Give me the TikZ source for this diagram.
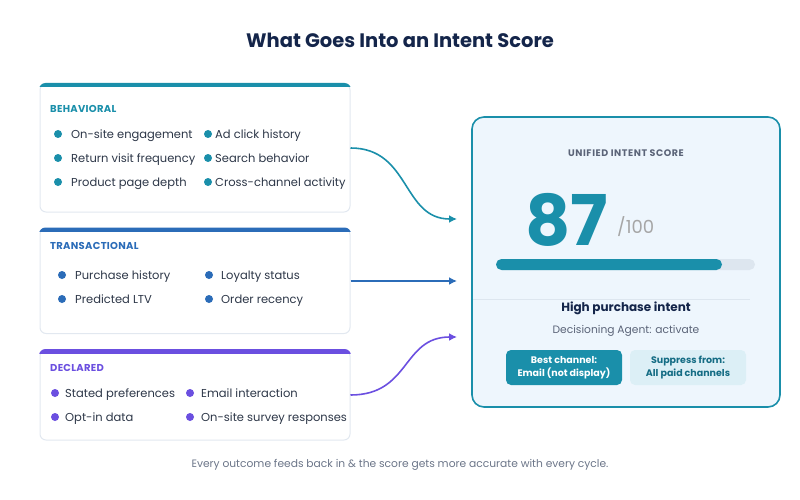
\documentclass[tikz,border=0pt]{standalone}
\usepackage{fontspec}
\setmainfont{Poppins}
\usetikzlibrary{arrows.meta}

\definecolor{navyText}{HTML}{14254A}
\definecolor{tealMain}{HTML}{1A8FAA}
\definecolor{blueMain}{HTML}{2B6CB8}
\definecolor{purpleMain}{HTML}{6B4FE0}
\definecolor{itemGray}{HTML}{2D3748}
\definecolor{labelGray}{HTML}{5B6478}
\definecolor{footGray}{HTML}{6B7588}
\definecolor{cardEdge}{HTML}{E2E8F0}
\definecolor{scoreFill}{HTML}{EEF6FD}
\definecolor{barBack}{HTML}{DDE6EF}
\definecolor{softFill}{HTML}{DCEFF6}
\definecolor{softText}{HTML}{146C84}

\begin{document}
\begin{tikzpicture}
[x=1pt,y=-1pt,
  cardBox/.style={draw=cardEdge,line width=1pt,fill=white,rounded corners=6pt,
    minimum width=310pt,inner sep=0pt},
  headLabel/.style={anchor=west,inner sep=0pt,
    font=\fontsize{10}{11}\selectfont\bfseries\addfontfeature{LetterSpace=3}},
  itemText/.style={anchor=base west,inner sep=0pt,text=itemGray,font=\fontsize{11.5}{13}\selectfont},
  flowLine/.style={line width=1.6pt,-{Latex[length=8pt,width=8pt]}},
  chipBox/.style={rounded corners=5pt,minimum width=116pt,minimum height=35pt,
    inner sep=0pt,align=center,font=\fontsize{9.5}{13}\selectfont\bfseries}]
\useasboundingbox (0,0) rectangle (800,500);

%% title
\node (title) at (400,40) [text=navyText,font=\fontsize{19.5}{22}\selectfont\bfseries] {What Goes Into an Intent Score};

%% source cards
\node (beh) at (195,148) [cardBox,minimum height=128pt] {};
\node (tra) at (195,281) [cardBox,minimum height=105pt] {};
\node (dec) at (195,395) [cardBox,minimum height=90pt] {};
\foreach \card/\col in {beh/tealMain, tra/blueMain, dec/purpleMain}
{
  \begin{scope}
    \clip[rounded corners=6.5pt] ([shift={(-0.5pt,0.5pt)}]\card.north west)
      rectangle ([shift={(0.5pt,-0.5pt)}]\card.south east);
    \fill[\col] ([shift={(-1pt,1pt)}]\card.north west) rectangle ([shift={(1pt,-4pt)}]\card.north east);
  \end{scope}
}

\node (behHead) at (50,109) [headLabel,text=tealMain] {BEHAVIORAL};
\node (traHead) at (50,246) [headLabel,text=blueMain] {TRANSACTIONAL};
\node (decHead) at (50,368) [headLabel,text=purpleMain] {DECLARED};

%% card items
\foreach \n/\xb/\xt/\y/\txt in {
  1/58/71/134/On-site engagement, 2/58/71/158/Return visit frequency,
  3/58/71/182/Product page depth, 4/208/215/134/Ad click history,
  5/208/215/158/Search behavior, 6/208/215/182/Cross-channel activity}
{
  \fill[tealMain] (\xb,\y) circle (4pt);
  \node (behItem\n) at (\xt,\y+4.3) [itemText] {\txt};
}
\foreach \n/\xb/\xt/\y/\txt in {
  1/62/75/275/Purchase history, 2/62/75/299/Predicted LTV,
  3/209/221/275/Loyalty status, 4/209/221/299/Order recency}
{
  \fill[blueMain] (\xb,\y) circle (4pt);
  \node (traItem\n) at (\xt,\y+4.3) [itemText] {\txt};
}
\foreach \n/\xb/\xt/\y/\txt in {
  1/55/65/393/Stated preferences, 2/55/65/417/Opt-in data,
  3/190/201/393/Email interaction, 4/190/201/417/On-site survey responses}
{
  \fill[purpleMain] (\xb,\y) circle (4pt);
  \node (decItem\n) at (\xt,\y+4.3) [itemText] {\txt};
}

%% score card
\node (score) at (626,262) [draw=tealMain,line width=1.6pt,fill=scoreFill,rounded corners=12pt,
  minimum width=308pt,minimum height=290pt] {};
\node (scoreHead) at (626,153) [text=labelGray,
  font=\fontsize{9.5}{11}\selectfont\bfseries\addfontfeature{LetterSpace=6}] {UNIFIED INTENT SCORE};
\node (scoreNum) at (567,245) [anchor=base,inner sep=0pt,text=tealMain,font=\fontsize{70}{70}\selectfont\bfseries] {87};
\node (scoreMax) at (617,233) [anchor=base west,inner sep=0pt,text=gray!70,font=\fontsize{18}{20}\selectfont] {/100};
\fill[barBack,rounded corners=5.5pt] (496,259) rectangle (755,270);
\fill[tealMain,rounded corners=5.5pt] (496,259) rectangle (722,270);
\draw[barBack,line width=1pt] (473,299) -- (750,299);
\node (intent) at (626,308) [text=navyText,font=\fontsize{12}{14}\selectfont\bfseries] {High purchase intent};
\node (agent) at (626,331) [text=labelGray,font=\fontsize{10.7}{13}\selectfont] {Decisioning Agent: activate};
\node (best) at (564,367.5) [chipBox,fill=tealMain,text=white] {Best channel:\\Email (not display)};
\node (supp) at (688,367.5) [chipBox,fill=softFill,text=softText] {Suppress from:\\All paid channels};

%% connectors
\coordinate (inBeh) at (457,219);
\coordinate (inTra) at (457,281);
\coordinate (inDec) at (457,337);
\draw[flowLine,tealMain] (beh.east) .. controls +(60,0) and +(-55,0) .. (inBeh);
\draw[flowLine,blueMain] (tra.east) -- (inTra);
\draw[flowLine,purpleMain] (dec.east) .. controls +(60,0) and +(-55,0) .. (inDec);

%% footer
\node (foot) at (400,465) [text=footGray,font=\fontsize{10.7}{12}\selectfont] {Every outcome feeds back in \& the score gets more accurate with every cycle.};
\end{tikzpicture}
\end{document}
